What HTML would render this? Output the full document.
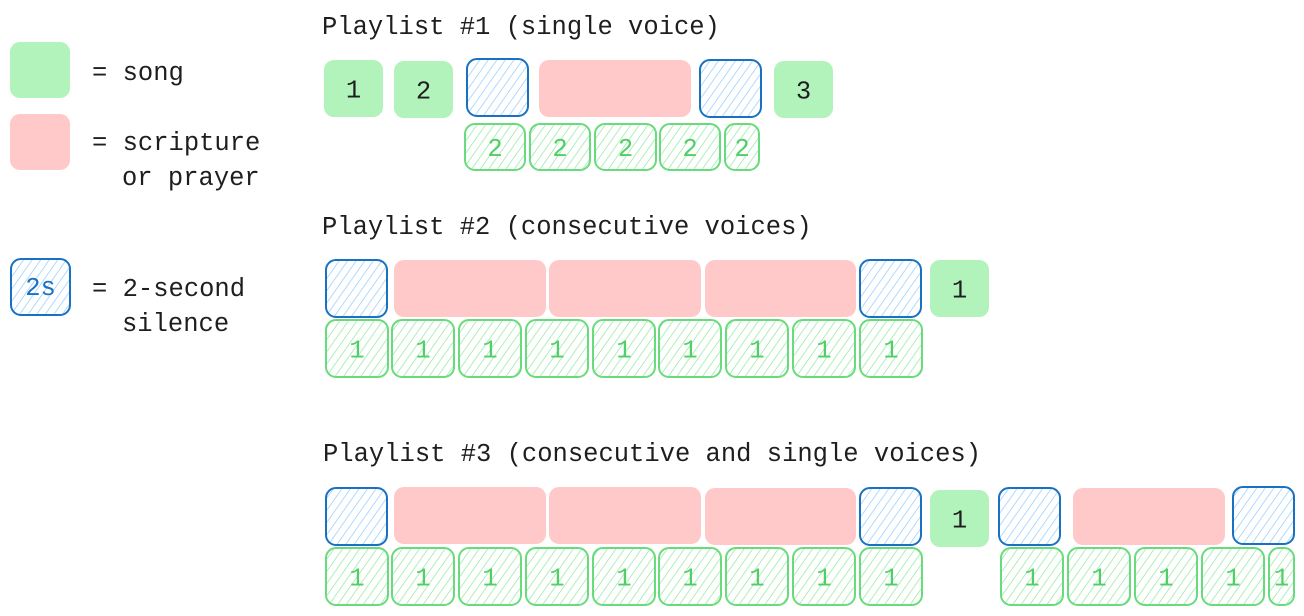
<!DOCTYPE html>
<html><head><meta charset="utf-8"><style>
html,body{margin:0;padding:0;background:#fff;}
svg{display:block;}
text{font-family:"Liberation Mono",monospace;}
</style></head><body>
<svg id="s" width="1304" height="616" viewBox="0 0 1304 616" xmlns="http://www.w3.org/2000/svg">
<defs>
<pattern id="hb" width="7" height="7" patternUnits="userSpaceOnUse" patternTransform="rotate(35)"><line x1="0" y1="0" x2="0" y2="7" stroke="#8fcbff" stroke-width="1.4"/></pattern>
<pattern id="hg" width="7" height="7" patternUnits="userSpaceOnUse" patternTransform="rotate(35)"><line x1="0" y1="0" x2="0" y2="7" stroke="#8ce99a" stroke-width="1.4"/></pattern>
</defs>
<g id="legend">
<rect x="10" y="42" width="60" height="56" rx="10" fill="#b2f2bb"/>
<text x="92" y="80" font-size="25.5" fill="#1e1e1e">= song</text>
<rect x="10" y="114" width="60" height="56" rx="10" fill="#ffc9c9"/>
<text x="92" y="150" font-size="25.5" fill="#1e1e1e">= scripture</text>
<text x="122" y="185" font-size="25.5" fill="#1e1e1e">or prayer</text>
<rect x="11" y="259" width="59" height="56" rx="10" fill="url(#hb)" stroke="#1971c2" stroke-width="2"/>
<text x="40.5" y="295" font-size="25.5" fill="#1971c2" text-anchor="middle">2s</text>
<text x="92" y="296" font-size="25.5" fill="#1e1e1e">= 2-second</text>
<text x="122" y="331" font-size="25.5" fill="#1e1e1e">silence</text>
</g>
<text x="322" y="34" font-size="25.5" fill="#1e1e1e">Playlist #1 (single voice)</text>
<text x="322" y="234" font-size="25.5" fill="#1e1e1e">Playlist #2 (consecutive voices)</text>
<text x="323" y="461" font-size="25.5" fill="#1e1e1e">Playlist #3 (consecutive and single voices)</text>
</svg>
<script>
// [type, x, y, w, h, label]  s=song, r=scripture, b=silence, g=song-segment
const row1 = [["s",324,60,59,57,"1"],["s",394,61,59,57,"2"],["b",467,59,61,57,""],["r",539,60,152,57,""],["b",700,60,61,57,""],["s",774,61,59,57,"3"]];
const row1b = [["g",465,124,60,46,"2"],["g",530,124,60,46,"2"],["g",595,124,61,46,"2"],["g",660,124,60,46,"2"],["g",725,124,34,46,"2"]];
const row2 = [["b",326,260,61,57,""],["r",394,260,152,57,""],["r",549,260,152,57,""],["r",705,260,151,57,""],["b",860,260,61,57,""],["s",930,260,59,57,"1"]];
const row2b = [326,392,459,526,593,659,726,793,860].map(x=>["g",x,320,62,57,"1"]);
const row3 = [["b",326,488,61,57,""],["r",394,487,152,57,""],["r",549,487,152,57,""],["r",705,488,151,57,""],["b",860,488,61,57,""],["s",930,490,59,57,"1"],["b",999,488,61,57,""],["r",1073,488,152,57,""],["b",1233,487,61,57,""]];
const row3b = [326,392,459,526,593,659,726,793,860,1001,1068,1135,1202].map(x=>["g",x,548,62,57,"1"]).concat([["g",1269,548,25,57,"1"]]);
const NS="http://www.w3.org/2000/svg", svg=document.getElementById('s');
const names={s:"song-block",r:"scripture-block",b:"silence-block",g:"song-segment"};
function draw(rows,prefix){
  rows.forEach((d,i)=>{
    const [t,x,y,w,h,l]=d;
    const r=document.createElementNS(NS,'rect');
    r.setAttribute('x',x);r.setAttribute('y',y);r.setAttribute('width',w);r.setAttribute('height',h);r.setAttribute('rx',10);
    if(t==="s") r.setAttribute('fill','#b2f2bb');
    else if(t==="r") r.setAttribute('fill','#ffc9c9');
    else if(t==="b"){r.setAttribute('fill','url(#hb)');r.setAttribute('stroke','#1971c2');r.setAttribute('stroke-width','2');}
    else {r.setAttribute('fill','url(#hg)');r.setAttribute('stroke','#69db7c');r.setAttribute('stroke-width','2');}
    
    
    svg.appendChild(r);
    if(l){
      const tx=document.createElementNS(NS,'text');
      tx.setAttribute('x',x+w/2);tx.setAttribute('y',y+h/2+9);tx.setAttribute('text-anchor','middle');
      tx.setAttribute('font-size','25.5');tx.setAttribute('fill',t==="g"?'#51cf66':'#1e1e1e');
      tx.textContent=l;
      
      
      svg.appendChild(tx);
    }
  });
}
draw(row1,"playlist-1");draw(row1b,"playlist-1-sub");
draw(row2,"playlist-2");draw(row2b,"playlist-2-sub");
draw(row3,"playlist-3");draw(row3b,"playlist-3-sub");
</script>
</body></html>
